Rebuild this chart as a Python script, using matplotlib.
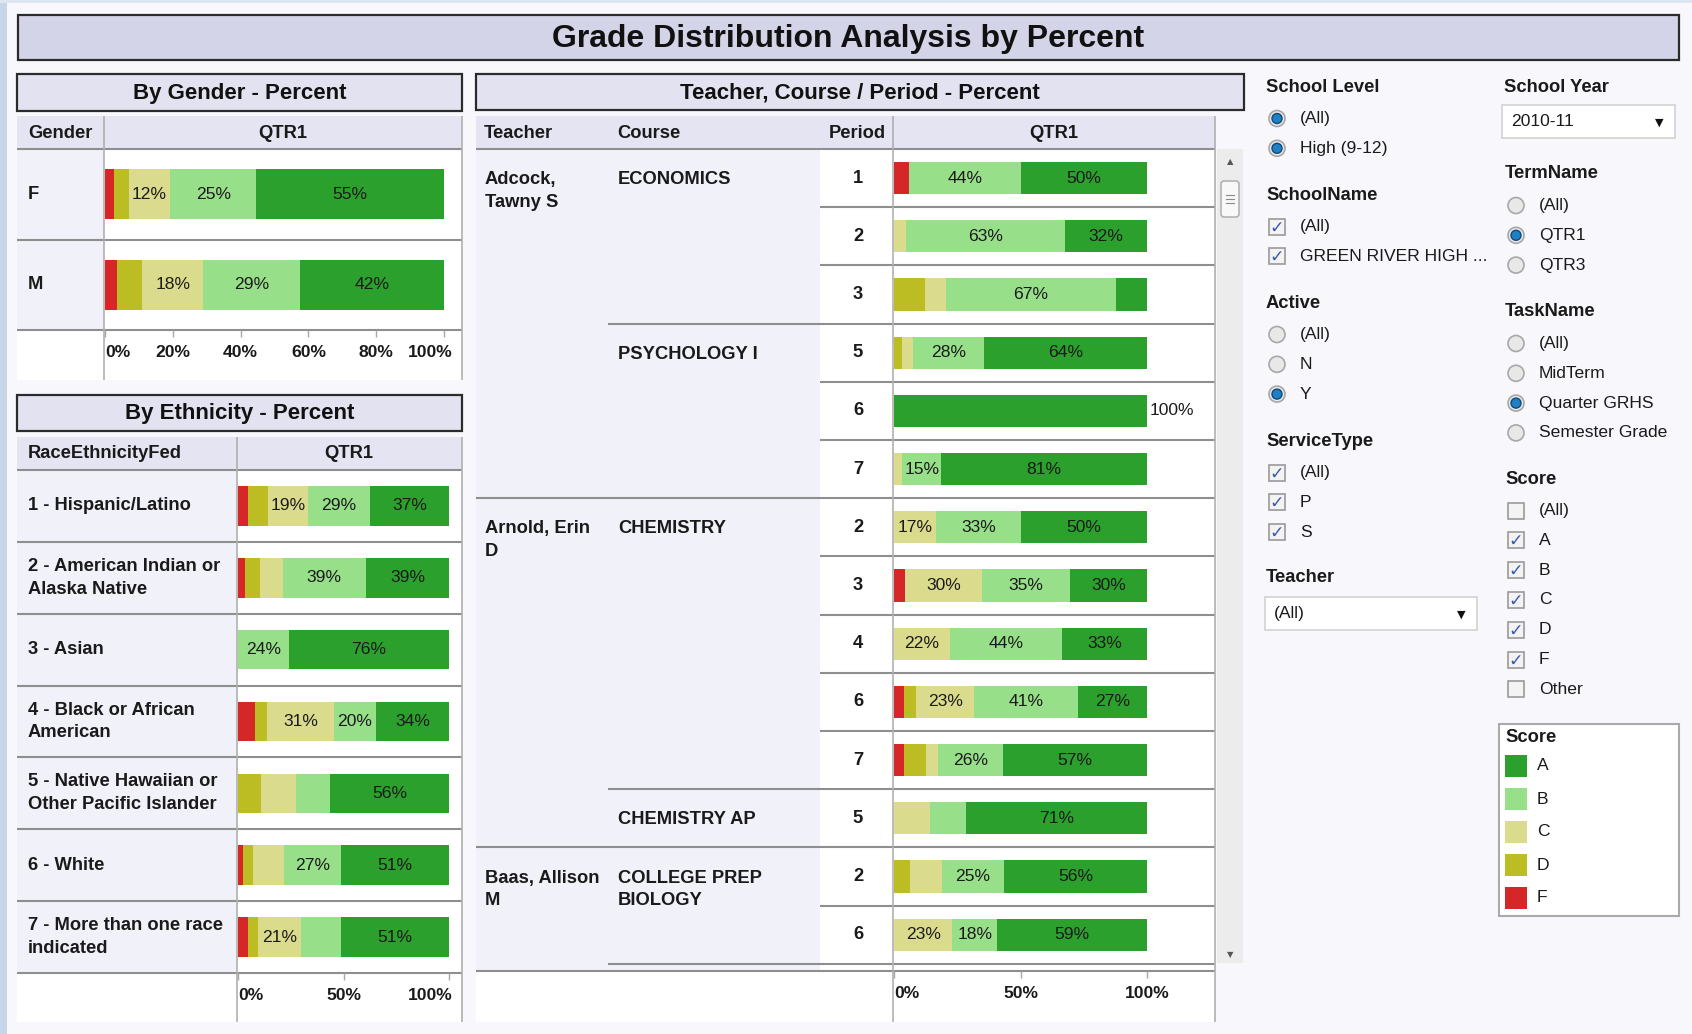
"""
Grade Distribution Analysis by Percent - dashboard (gender / ethnicity / teacher panels + filters).
"""
import numpy as np
import matplotlib
matplotlib.use("Agg")
import matplotlib.pyplot as plt
import matplotlib.transforms as mtransforms
from matplotlib.patches import Rectangle, Circle, FancyBboxPatch

plt.rcParams["font.family"] = ["Liberation Sans", "DejaVu Sans"]

# ---------------- data ----------------
GRADES = ["F", "D", "C", "B", "A"]          # stacking order left -> right
GRADE_COLORS = {"A": "#2ca02c", "B": "#98df8a", "C": "#dbdb8d",
                "D": "#bcbd22", "F": "#d62728"}
LEGEND_ORDER = ["A", "B", "C", "D", "F"]

genders = ["F", "M"]
gender_F = [2.6, 3.6]
gender_D = [4.4, 7.3]
gender_C = [12.2, 18.1]
gender_B = [25.4, 28.6]
gender_A = [55.4, 42.4]

ethnicities = [
    "1 - Hispanic/Latino",
    "2 - American Indian or\nAlaska Native",
    "3 - Asian",
    "4 - Black or African\nAmerican",
    "5 - Native Hawaiian or\nOther Pacific Islander",
    "6 - White",
    "7 - More than one race\nindicated",
]
eth_F = [4.7, 3.3, 0.0, 8.2, 0.0, 2.5, 4.7]
eth_D = [9.3, 7.0, 0.0, 5.7, 11.1, 4.6, 4.7]
eth_C = [19.3, 10.9, 0.0, 31.4, 16.5, 14.9, 20.6]
eth_B = [29.2, 39.4, 24.0, 20.3, 16.0, 26.9, 18.6]
eth_A = [37.4, 39.4, 76.0, 34.4, 56.4, 51.1, 51.4]

teachers = ["Adcock,\nTawny S"] * 6 + ["Arnold, Erin\nD"] * 6 + ["Baas, Allison\nM"] * 2
courses = (["ECONOMICS"] * 3 + ["PSYCHOLOGY I"] * 3 + ["CHEMISTRY"] * 5
           + ["CHEMISTRY AP"] + ["COLLEGE PREP\nBIOLOGY"] * 2)
periods = [1, 2, 3, 5, 6, 7, 2, 3, 4, 6, 7, 5, 2, 6]
tc_F = [6.0, 0, 0, 0, 0, 0, 0, 4.3, 0, 4.1, 4.1, 0, 0, 0]
tc_D = [0, 0, 12.2, 3.3, 0, 0, 0, 0, 0, 4.7, 8.7, 0, 6.3, 0]
tc_C = [0, 4.7, 8.5, 4.3, 0, 3.3, 16.7, 30.4, 22.2, 23.0, 4.5, 14.2, 12.5, 23.0]
tc_B = [44.0, 63.0, 66.9, 28.0, 0, 15.4, 33.3, 34.8, 44.4, 40.9, 25.6, 14.4, 24.8, 17.9]
tc_A = [50.0, 32.3, 12.4, 64.4, 100.0, 81.3, 50.0, 30.4, 33.3, 27.3, 57.1, 71.4, 56.4, 59.1]

# filters (title, items, selected flags, kind)
left_filters = [
    ("School Level", ["(All)", "High (9-12)"], [True, True], "radio"),
    ("SchoolName", ["(All)", "GREEN RIVER HIGH ..."], [True, True], "check"),
    ("Active", ["(All)", "N", "Y"], [False, False, True], "radio"),
    ("ServiceType", ["(All)", "P", "S"], [True, True, True], "check"),
]
right_filters = [
    ("TermName", ["(All)", "QTR1", "QTR3"], [False, True, False], "radio"),
    ("TaskName", ["(All)", "MidTerm", "Quarter GRHS", "Semester Grade"],
     [False, False, True, False], "radio"),
    ("Score", ["(All)", "A", "B", "C", "D", "F", "Other"],
     [False, True, True, True, True, True, False], "check"),
]

# ---------------- style ----------------
W, H = 1692, 1034
PAGE = "#f7f7fc"
HEAD = "#e4e4f3"
BAND = "#f1f1f9"
LINE = "#8e8e8e"
VLINE = "#b0b0b0"
TXT = "#1a1a1a"
FS = 12.6      # regular text
FSB = 13.2     # bold headers / row labels
LS = 1.45

fig = plt.figure(figsize=(W / 100, H / 100), dpi=100, facecolor=PAGE)
bg = fig.add_axes([0, 0, 1, 1])
bg.set_xlim(0, W)
bg.set_ylim(H, 0)
bg.axis("off")


def box(x0, y0, x1, y1, fc, ec="none", lw=0.0, z=1):
    bg.add_patch(Rectangle((x0, y0), x1 - x0, y1 - y0, facecolor=fc,
                           edgecolor=ec, linewidth=lw, zorder=z))


def hline(y, x0, x1, tr=None, color=LINE, lw=1.5):
    bg.plot([x0, x1], [y, y], color=color, lw=lw, solid_capstyle="butt",
            transform=tr if tr is not None else bg.transData, zorder=3)


def vline(x, y0, y1, color=VLINE, lw=1.2):
    bg.plot([x, x], [y0, y1], color=color, lw=lw, solid_capstyle="butt", zorder=3)


def title_box(x0, y0, x1, y1, text, fs, fc):
    box(x0, y0, x1, y1, fc, ec="#2b2b2b", lw=1.6, z=2)
    bg.text((x0 + x1) / 2, (y0 + y1) / 2 + 1, text, ha="center", va="center",
            fontsize=fs, fontweight="bold", color="#111111", zorder=4)


def bar_axes(x0, y0, x1, y1, px100, row_px):
    ax = fig.add_axes([x0 / W, 1 - y1 / H, (x1 - x0) / W, (y1 - y0) / H])
    ax.set_facecolor("none")
    ax.set_xlim(0, (x1 - x0) / px100 * 100)
    ax.set_ylim((y1 - y0) / row_px - 0.5, -0.5)
    for s in ax.spines.values():
        s.set_visible(False)
    ax.set_yticks([])
    return ax


def draw_stack(ax, pct, min_label):
    n = len(pct["A"])
    rows = np.arange(n)
    left = np.zeros(n)
    for g in GRADES:
        vals = np.asarray(pct[g], dtype=float)
        ax.barh(rows, vals, left=left, height=0.55, color=GRADE_COLORS[g], linewidth=0)
        for r, l, v in zip(rows, left, vals):
            if v >= 99.5:
                ax.text(l + v + 1.2, r, f"{v:.0f}%", ha="left", va="center",
                        fontsize=FS, color=TXT)
            elif v >= min_label:
                ax.text(l + v / 2, r, f"{v:.0f}%", ha="center", va="center",
                        fontsize=FS, color=TXT)
        left += vals


def set_ticks(ax, ticks, last_ha="center", last_shift=0):
    ax.set_xticks(ticks)
    ax.set_xticklabels([f"{t}%" for t in ticks], fontsize=FS, fontweight="bold", color=TXT)
    ax.tick_params(axis="x", length=5, width=1, color="#a8a8a8", pad=6)
    labs = ax.get_xticklabels()
    labs[0].set_ha("left")
    labs[-1].set_ha(last_ha)
    if last_shift:
        labs[-1].set_transform(labs[-1].get_transform()
                               + mtransforms.ScaledTranslation(last_shift / 100, 0,
                                                               fig.dpi_scale_trans))


def rowtrans(ax):
    return mtransforms.blended_transform_factory(bg.transData, ax.transData)


# ---------------- page ----------------
box(0, 0, 7, H, "#c7d5e8", z=0)
box(0, 0, W, 3, "#dde6f1", z=0)
title_box(18, 15, 1679, 60, "Grade Distribution Analysis by Percent", 23, "#d4d4e8")

# ---------------- gender ----------------
title_box(17, 74, 462, 111, "By Gender - Percent", 16, "#e2e2f1")
box(17, 116, 462, 149, HEAD)
box(17, 149, 104, 330, BAND)
box(104, 149, 462, 330, "white")
box(17, 330, 462, 380, "white")
ax_g = bar_axes(105, 149, 462, 330, 339, 90.5)
draw_stack(ax_g, {"F": gender_F, "D": gender_D, "C": gender_C,
                  "B": gender_B, "A": gender_A}, 10)
set_ticks(ax_g, [0, 20, 40, 60, 80, 100], "right", 9)
bg.text(28, 133, "Gender", va="center", fontsize=FSB, fontweight="bold", color=TXT)
bg.text(283, 133, "QTR1", ha="center", va="center", fontsize=FSB, fontweight="bold", color=TXT)
tr = rowtrans(ax_g)
for i, g in enumerate(genders):
    bg.text(28, i, g, transform=tr, va="center", fontsize=FSB, fontweight="bold", color=TXT)
    hline(i + 0.5, 17, 462, tr)
hline(149, 17, 462)
vline(104, 116, 380)
vline(462, 116, 380)

# ---------------- ethnicity ----------------
title_box(17, 395, 462, 431, "By Ethnicity - Percent", 16, "#e2e2f1")
box(17, 437, 462, 470, HEAD)
box(17, 470, 237, 973, BAND)
box(237, 470, 462, 973, "white")
box(17, 973, 462, 1022, "white")
ax_e = bar_axes(238, 470, 461, 973, 211, 71.857)
draw_stack(ax_e, {"F": eth_F, "D": eth_D, "C": eth_C, "B": eth_B, "A": eth_A}, 19)
set_ticks(ax_e, [0, 50, 100], "right", 4)
bg.text(28, 454, "RaceEthnicityFed", va="center", fontsize=FSB, fontweight="bold", color=TXT)
bg.text(349, 454, "QTR1", ha="center", va="center", fontsize=FSB, fontweight="bold", color=TXT)
tr = rowtrans(ax_e)
for i, e in enumerate(ethnicities):
    bg.text(28, i, e, transform=tr, va="center", fontsize=FSB, fontweight="bold",
            color=TXT, linespacing=LS)
    hline(i + 0.5, 17, 462, tr)
hline(470, 17, 462)
vline(237, 437, 1022)
vline(462, 437, 1022)

# ---------------- teacher / course / period ----------------
title_box(476, 74, 1244, 110, "Teacher, Course / Period - Percent", 16, "#e2e2f1")
box(476, 116, 1215, 149, HEAD)
box(476, 149, 820, 971, BAND)
box(820, 149, 1215, 971, "white")
box(476, 971, 1215, 1022, "white")
ax_t = bar_axes(894, 149, 1215, 971, 253, 58.2)
draw_stack(ax_t, {"F": tc_F, "D": tc_D, "C": tc_C, "B": tc_B, "A": tc_A}, 15)
set_ticks(ax_t, [0, 50, 100], "center", 0)
for txt, x, ha in [("Teacher", 484, "left"), ("Course", 617, "left"),
                   ("Period", 886, "right"), ("QTR1", 1054, "center")]:
    bg.text(x, 133, txt, ha=ha, va="center", fontsize=FSB, fontweight="bold", color=TXT)
tr = rowtrans(ax_t)
for i in range(len(periods)):
    bg.text(858, i, str(periods[i]), transform=tr, ha="center", va="center",
            fontsize=FSB, fontweight="bold", color=TXT)
    if i == 0 or teachers[i] != teachers[i - 1]:
        bg.text(485, i - 0.12, teachers[i], transform=tr, va="top", fontsize=FSB,
                fontweight="bold", color=TXT, linespacing=LS)
        x0 = 476
    elif courses[i] != courses[i - 1]:
        x0 = 608
    else:
        x0 = 820
    if i == 0 or courses[i] != courses[i - 1]:
        bg.text(618, i - 0.12, courses[i], transform=tr, va="top", fontsize=FSB,
                fontweight="bold", color=TXT, linespacing=LS)
    if i > 0:
        hline(i - 0.5, x0, 1215, tr)
hline(len(periods) - 0.5, 608, 1215, tr)   # next course (scrolled out of view)
hline(149, 476, 1215)
hline(971, 476, 1215)
vline(893, 116, 1022)
vline(1215, 116, 1022)

# scrollbar
box(1217, 149, 1243, 963, "#ececec")
bg.text(1230, 162, "▲", ha="center", va="center", fontsize=6, color="#555555",
        family="DejaVu Sans", zorder=4)
bg.text(1230, 955, "▼", ha="center", va="center", fontsize=6, color="#555555",
        family="DejaVu Sans", zorder=4)
bg.add_patch(FancyBboxPatch((1221, 181), 18, 36, boxstyle="round,pad=0,rounding_size=3",
                            fc="#f8f8f8", ec="#a8a8a8", lw=1, zorder=4))
for dy in (-4, 0, 4):
    bg.plot([1226, 1234], [199 + dy, 199 + dy], color="#8a8a8a", lw=0.8, zorder=5)

# ---------------- filters ----------------


def radio(x, y, on):
    bg.add_patch(Circle((x, y), 8, fc="#e8e8e8", ec="#a8a8a8", lw=1.2, zorder=4))
    if on:
        bg.add_patch(Circle((x, y), 5, fc="#1f80c6", ec="#0d4a78", lw=1.0, zorder=5))


def check(x, y, on):
    bg.add_patch(Rectangle((x - 8, y - 8), 16, 16, fc="#f3f3f3", ec="#9a9a9a",
                           lw=1.2, zorder=4))
    if on:
        bg.text(x, y + 1, "✓", ha="center", va="center", fontsize=12.5,
                fontweight="bold", color="#3a58b0", family="DejaVu Sans", zorder=5)


def filter_group(x, y, title, items, flags, kind):
    bg.text(x, y, title, va="center", fontsize=FSB, fontweight="bold", color=TXT)
    for k, (it, on) in enumerate(zip(items, flags)):
        yy = y + 31.5 + k * 29.8
        (radio if kind == "radio" else check)(x + 11, yy, on)
        bg.text(x + 34, yy, it, va="center", fontsize=FS, color=TXT)


def dropdown(x0, y0, x1, y1, text):
    box(x0, y0, x1, y1, "white", ec="#d2d2d2", lw=1.2, z=3)
    bg.text(x0 + 9, (y0 + y1) / 2, text, va="center", fontsize=FS, color=TXT, zorder=4)
    bg.text(x1 - 16, (y0 + y1) / 2 + 1, "▼", ha="center", va="center", fontsize=8,
            color="#111111", family="DejaVu Sans", zorder=4)


for (title, items, flags, kind), y in zip(left_filters, [87, 195, 303, 441]):
    filter_group(1266, y, title, items, flags, kind)
bg.text(1266, 578, "Teacher", va="center", fontsize=FSB, fontweight="bold", color=TXT)
dropdown(1265, 597, 1477, 630, "(All)")

bg.text(1504, 87, "School Year", va="center", fontsize=FSB, fontweight="bold", color=TXT)
dropdown(1502, 105, 1675, 138, "2010-11")
for (title, items, flags, kind), y in zip(right_filters, [174, 312, 479]):
    filter_group(1505, y, title, items, flags, kind)

# legend
box(1499, 724, 1679, 916, "white", ec="#aaaaaa", lw=1.5, z=2)
bg.text(1505, 737, "Score", va="center", fontsize=FSB, fontweight="bold", color=TXT, zorder=4)
for k, g in enumerate(LEGEND_ORDER):
    yy = 766 + k * 33
    box(1505, yy - 11, 1527, yy + 11, GRADE_COLORS[g], z=4)
    bg.text(1537, yy, g, va="center", fontsize=FS, color=TXT, zorder=4)

fig.savefig("out.png", dpi=100, facecolor=PAGE)
